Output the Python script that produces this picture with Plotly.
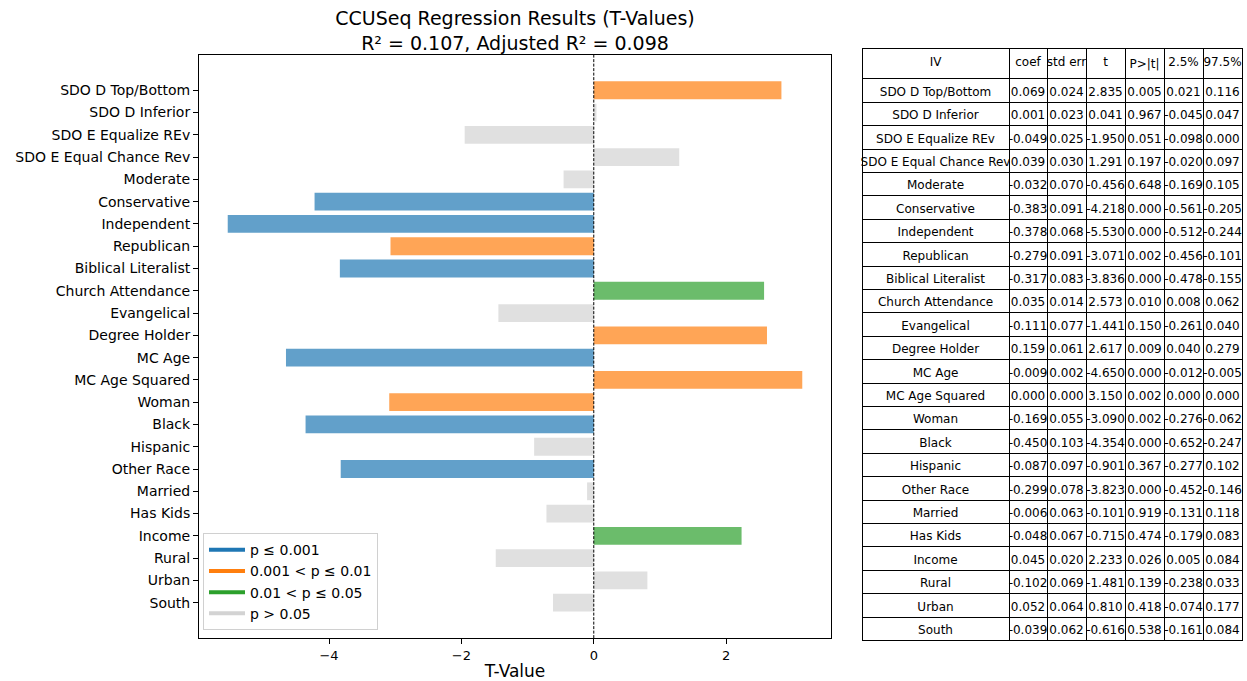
import plotly.graph_objects as go

# Regression output: one entry per independent variable
variables = [
    "SDO D Top/Bottom", "SDO D Inferior", "SDO E Equalize REv", "SDO E Equal Chance Rev",
    "Moderate", "Conservative", "Independent", "Republican", "Biblical Literalist",
    "Church Attendance", "Evangelical", "Degree Holder", "MC Age", "MC Age Squared",
    "Woman", "Black", "Hispanic", "Other Race", "Married", "Has Kids", "Income",
    "Rural", "Urban", "South",
]
coef = [0.069, 0.001, -0.049, 0.039, -0.032, -0.383, -0.378, -0.279, -0.317, 0.035,
        -0.111, 0.159, -0.009, 0.000, -0.169, -0.450, -0.087, -0.299, -0.006, -0.048,
        0.045, -0.102, 0.052, -0.039]
std_err = [0.024, 0.023, 0.025, 0.030, 0.070, 0.091, 0.068, 0.091, 0.083, 0.014,
           0.077, 0.061, 0.002, 0.000, 0.055, 0.103, 0.097, 0.078, 0.063, 0.067,
           0.020, 0.069, 0.064, 0.062]
t_values = [2.835, 0.041, -1.950, 1.291, -0.456, -4.218, -5.530, -3.071, -3.836, 2.573,
            -1.441, 2.617, -4.650, 3.150, -3.090, -4.354, -0.901, -3.823, -0.101, -0.715,
            2.233, -1.481, 0.810, -0.616]
p_values = [0.005, 0.967, 0.051, 0.197, 0.648, 0.000, 0.000, 0.002, 0.000, 0.010,
            0.150, 0.009, 0.000, 0.002, 0.002, 0.000, 0.367, 0.000, 0.919, 0.474,
            0.026, 0.139, 0.418, 0.538]
ci_low = [0.021, -0.045, -0.098, -0.020, -0.169, -0.561, -0.512, -0.456, -0.478, 0.008,
          -0.261, 0.040, -0.012, 0.000, -0.276, -0.652, -0.277, -0.452, -0.131, -0.179,
          0.005, -0.238, -0.074, -0.161]
ci_high = [0.116, 0.047, 0.000, 0.097, 0.105, -0.205, -0.244, -0.101, -0.155, 0.062,
           0.040, 0.279, -0.005, 0.000, -0.062, -0.247, 0.102, -0.146, 0.118, 0.083,
           0.084, 0.033, 0.177, 0.084]
# Significance tier of each variable (0: p<=.001, 1: <=.01, 2: <=.05, 3: n.s.)
sig_tier = [1, 3, 3, 3, 3, 0, 0, 1, 0, 2, 3, 1, 0, 1, 1, 0, 3, 0, 3, 3, 2, 3, 3, 3]

tier_labels = ["p ≤ 0.001", "0.001 < p ≤ 0.01", "0.01 < p ≤ 0.05", "p > 0.05"]
tier_solid = ["#1f77b4", "#ff7f0e", "#2ca02c", "#d3d3d3"]
tier_fill = ["rgba(31,119,180,0.7)", "rgba(255,127,14,0.7)",
             "rgba(44,160,44,0.7)", "rgba(211,211,211,0.7)"]

table_header = ["IV", "coef", "std err", "t", "P>|t|", "2.5%", "97.5%"]

FONT = "DejaVu Sans"
W, H = 1247, 681

fig = go.Figure()

fig.add_trace(go.Bar(
    x=t_values,
    y=list(range(len(variables))),
    orientation="h",
    width=0.8,
    marker=dict(color=[tier_fill[s] for s in sig_tier], line=dict(width=0)),
    showlegend=False,
    hoverinfo="x+text",
    hovertext=variables,
))

# Legend entries drawn as lines
for lab, col in zip(tier_labels, tier_solid):
    fig.add_trace(go.Scatter(
        x=[None], y=[None], mode="lines", name=lab,
        line=dict(color=col, width=4),
    ))


def fmt(vals):
    return [f"{v:.3f}" for v in vals]


def nowrap(texts):
    # non-breaking spaces keep long labels on a single line inside the cells
    return [s.replace(" ", "\u00a0") for s in texts]


TABLE_FONT = 12
HEADER_H = 30
ROW_H = 23.4
table_top = 79 - HEADER_H
table_bottom = 79 + ROW_H * len(variables) + 6

fig.add_trace(go.Table(
    domain=dict(x=[862 / W, 1243 / W], y=[1 - table_bottom / H, 1 - table_top / H]),
    columnwidth=[147, 38, 39, 39, 39, 39, 39],
    header=dict(
        values=nowrap(table_header),
        fill_color="white",
        line=dict(color="black", width=1),
        font=dict(family=FONT, size=TABLE_FONT, color="black"),
        align="center",
        height=HEADER_H,
    ),
    cells=dict(
        values=[nowrap(variables), fmt(coef), fmt(std_err), fmt(t_values), fmt(p_values),
                fmt(ci_low), fmt(ci_high)],
        fill_color="white",
        line=dict(color="black", width=1),
        font=dict(family=FONT, size=TABLE_FONT, color="black"),
        align="center",
        height=ROW_H,
    ),
))

n = len(variables)
fig.update_layout(
    width=W, height=H,
    margin=dict(l=0, r=0, t=0, b=0),
    paper_bgcolor="white",
    plot_bgcolor="white",
    font=dict(family=FONT, color="black"),
    title=dict(
        text="CCUSeq Regression Results (T-Values)<br>R² = 0.107, Adjusted R² = 0.098",
        x=515 / W, xanchor="center",
        y=1 - 25 / H, yanchor="middle",
        font=dict(family=FONT, size=19, color="black"),
    ),
    xaxis=dict(
        domain=[199 / W, 831 / W],
        range=[-5.964, 3.584],
        tickvals=[-4, -2, 0, 2],
        ticks="outside", ticklen=5, tickwidth=1, tickcolor="black",
        showgrid=False, zeroline=False,
        showline=True, linecolor="black", linewidth=1, mirror=True,
        tickfont=dict(family=FONT, size=13, color="black"),
        title=dict(text="T-Value", font=dict(family=FONT, size=17, color="black"), standoff=6),
    ),
    yaxis=dict(
        domain=[1 - 640 / H, 1 - 55 / H],
        range=[n - 0.6 + 1.19, -1.59],
        tickvals=list(range(n)),
        ticktext=variables,
        ticks="outside", ticklen=5, tickwidth=1, tickcolor="black",
        showgrid=False, zeroline=False,
        showline=True, linecolor="black", linewidth=1, mirror=True,
        tickfont=dict(family=FONT, size=14, color="black"),
    ),
    legend=dict(
        x=203 / W, xanchor="left",
        y=1 - 632 / H, yanchor="bottom",
        bgcolor="white",
        bordercolor="#d0d0d0", borderwidth=1,
        font=dict(family=FONT, size=14, color="black"),
        tracegroupgap=0,
        itemwidth=36,
    ),
    shapes=[dict(
        type="line", xref="x", yref="y domain",
        x0=0, x1=0, y0=0, y1=1,
        line=dict(color="black", width=1, dash="3px,1.5px"),
    )],
)

fig.write_html("out.html")
